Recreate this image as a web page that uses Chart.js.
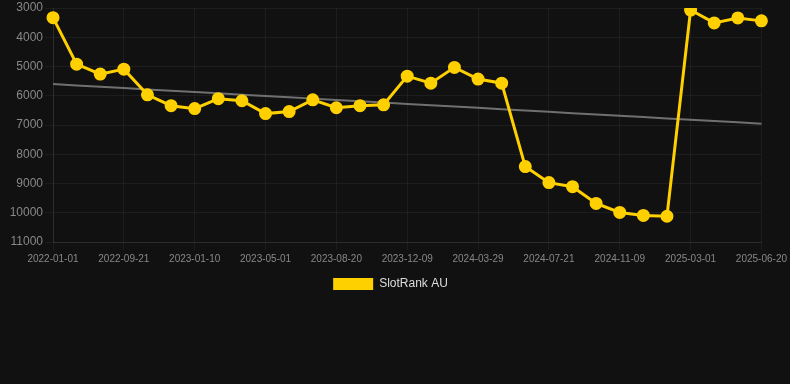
<!DOCTYPE html>
<html>
<head>
<meta charset="utf-8">
<script src="https://cdn.jsdelivr.net/npm/chart.js@4/dist/chart.umd.min.js"></script>
<style>
  html, body { margin: 0; padding: 0; background: #111111; }
  #wrap { width: 790px; height: 300px; position: relative; }
</style>
</head>
<body>
<div id="wrap"><canvas id="c"></canvas></div>
<script>
const labels = [
  "2022-01-01","2022-05-01","2022-08-14","2022-09-21","2022-10-28","2022-12-04",
  "2023-01-10","2023-02-16","2023-03-25","2023-05-01","2023-06-07","2023-07-14",
  "2023-08-20","2023-09-26","2023-11-02","2023-12-09","2024-01-15","2024-02-21",
  "2024-03-29","2024-05-05","2024-06-13","2024-07-21","2024-08-27","2024-10-03",
  "2024-11-09","2024-12-16","2025-01-22","2025-03-01","2025-04-07","2025-05-14",
  "2025-06-20"
];
const rankValues = [
  3330, 4920, 5260, 5090, 5970, 6340,
  6440, 6100, 6170, 6610, 6540, 6140,
  6410, 6340, 6310, 5330, 5570, 5030,
  5430, 5570, 8420, 8970, 9110, 9680,
  9990, 10090, 10120, 3070, 3510, 3340,
  3440
];
const yTicks = [3000, 4000, 5000, 6000, 7000, 8000, 9000, 10000, 11000];

// linear regression trend from the data
const n = rankValues.length;
const mx = (n - 1) / 2;
const my = rankValues.reduce((a, b) => a + b, 0) / n;
let sxy = 0, sxx = 0;
rankValues.forEach((v, i) => { sxy += (i - mx) * (v - my); sxx += (i - mx) * (i - mx); });
const slope = sxy / sxx;
const trend = rankValues.map((v, i) => my + slope * (i - mx));

const FONT = 'Arial, "Liberation Sans", sans-serif';

new Chart(document.getElementById('c'), {
  type: 'line',
  data: {
    labels: labels,
    datasets: [
      {
        label: 'SlotRank AU',
        data: rankValues,
        borderColor: '#FFD000',
        backgroundColor: '#FFD000',
        borderWidth: 3,
        pointRadius: 5,
        pointHoverRadius: 6,
        pointBackgroundColor: '#FFD000',
        pointBorderColor: '#FFD000',
        tension: 0,
        order: 1
      },
      {
        label: 'trend',
        data: trend,
        borderColor: '#707070',
        borderWidth: 2,
        pointRadius: 0,
        fill: false,
        tension: 0,
        order: 2
      }
    ]
  },
  options: {
    responsive: true,
    maintainAspectRatio: false,
    animation: false,
    layout: { autoPadding: false, padding: { left: 0, right: 9, top: 0, bottom: 0 } },
    plugins: {
      legend: {
        position: 'bottom',
        labels: {
          color: '#dddddd',
          font: { family: FONT, size: 12 },
          boxWidth: 40,
          boxHeight: 12,
          generateLabels: (chart) => {
            const items = Chart.defaults.plugins.legend.labels.generateLabels(chart);
            return items.filter(it => it.text !== 'trend').map(it => Object.assign(it, { lineWidth: 0 }));
          }
        }
      },
      tooltip: { enabled: false }
    },
    scales: {
      x: {
        offset: false,
        grid: { color: 'rgba(255,255,255,0.05)', tickColor: 'rgba(255,255,255,0.05)' },
        border: { color: 'rgba(255,255,255,0.08)' },
        ticks: {
          color: '#888888',
          font: { family: FONT, size: 10 },
          maxRotation: 0,
          autoSkip: true,
          callback: function(value, index) { return index % 3 === 0 ? labels[index] : null; }
        }
      },
      y: {
        reverse: true,
        min: yTicks[0],
        max: yTicks[yTicks.length - 1],
        afterBuildTicks: (axis) => { axis.ticks = yTicks.map(v => ({ value: v })); },
        afterFit: (axis) => { axis.width = 53; },
        grid: { color: 'rgba(255,255,255,0.05)', tickColor: 'rgba(255,255,255,0.05)' },
        border: { color: 'rgba(255,255,255,0.08)' },
        ticks: {
          color: '#888888',
          padding: 2,
          font: { family: FONT, size: 12, lineHeight: 1 },
          callback: (v) => String(v)
        }
      }
    }
  }
});
</script>
</body>
</html>
